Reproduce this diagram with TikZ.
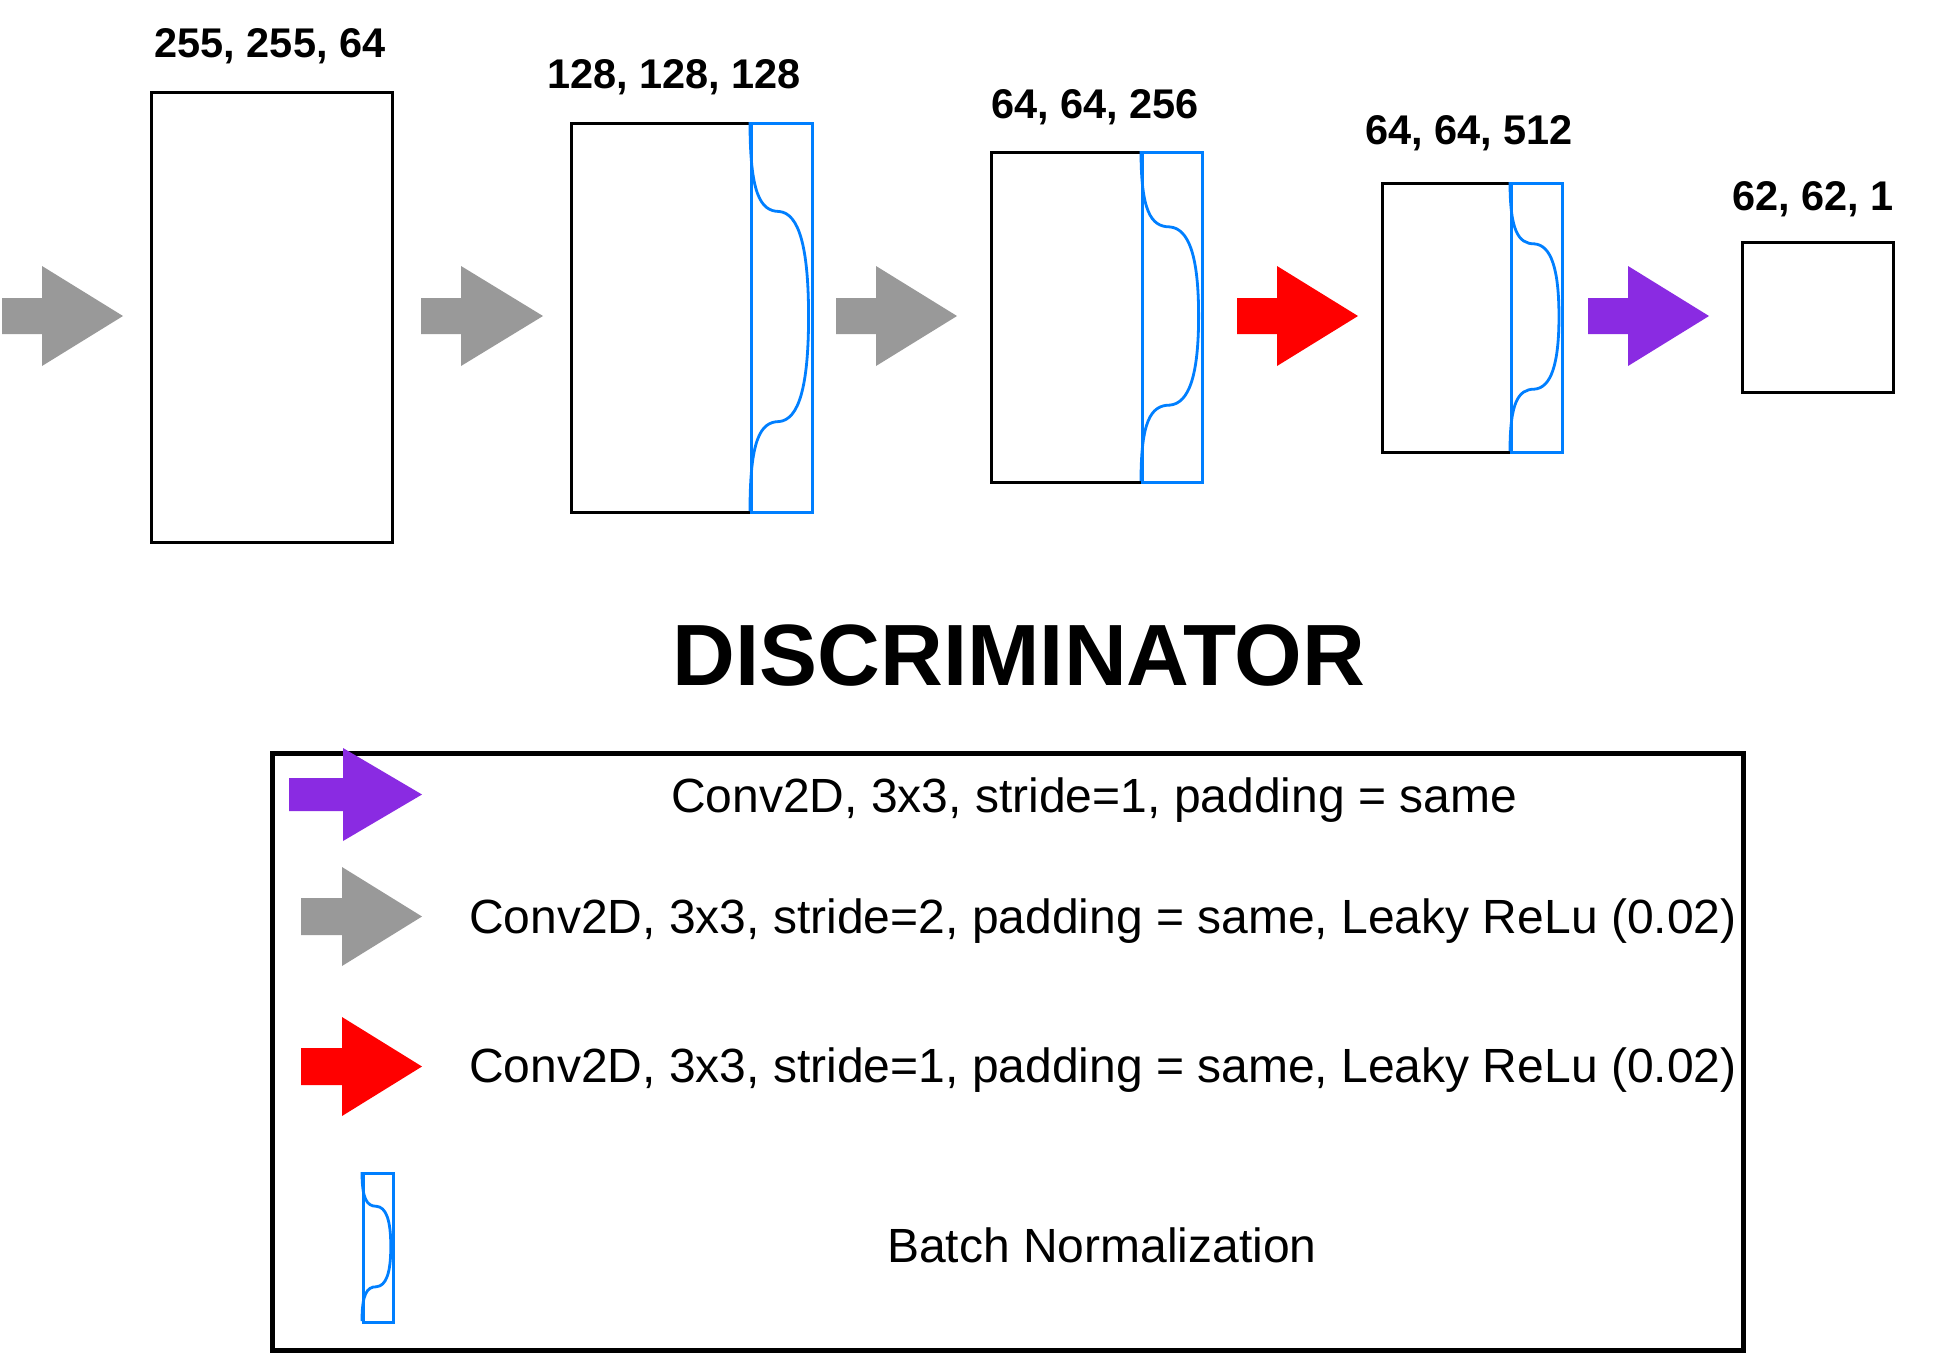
\documentclass[tikz,border=0pt]{standalone}
\usepackage{fontspec}
\setmainfont{Liberation Sans}

\definecolor{bnblue}{RGB}{0,127,255}
\definecolor{convgray}{RGB}{153,153,153}
\definecolor{convred}{RGB}{255,0,0}
\definecolor{convpurple}{RGB}{138,43,226}

% block arrow: fill style, x start, x of head base, x of tip, y centre, shaft half-height, head half-height
\newcommand\blockarrowshape[7]{%
  \fill[#1] (#2,#5-#6) -- (#3,#5-#6) -- (#3,#5-#7) -- (#4,#5)
    -- (#3,#5+#7) -- (#3,#5+#6) -- (#2,#5+#6) -- cycle;}

% batch-normalisation wave inside a box: x, y of top-left corner, width, height
\newcommand\bnwave[4]{%
  \draw[bnline, shift={(#1,#2)}, x=#3pt, y=-#4pt]
    (0,0) .. controls (0,0.18) and (0.16,0.23) .. (0.48,0.23)
    .. controls (0.8,0.235) and (0.96,0.32) .. (0.96,0.5)
    .. controls (0.96,0.68) and (0.8,0.765) .. (0.48,0.77)
    .. controls (0.16,0.77) and (0,0.82) .. (0,1);}

\begin{document}
\begin{tikzpicture}[x=1pt,y=-1pt,
  layer/.style={draw=black, line width=3.2pt, inner sep=0pt, anchor=north west},
  bnbox/.style={draw=bnblue, line width=3.2pt, inner sep=0pt, anchor=north west},
  bnline/.style={draw=bnblue, line width=2.8pt},
  dimlabel/.style={font=\fontsize{41.5}{50}\selectfont\bfseries, anchor=base, inner sep=0pt},
  legendtext/.style={font=\fontsize{48}{58}\selectfont, anchor=base west, inner sep=0pt},
  grayfill/.style={fill=convgray},
  redfill/.style={fill=convred},
  purplefill/.style={fill=convpurple}]

\fill[white] (0,0) rectangle (1953,1353);
\useasboundingbox (0,0) rectangle (1953,1353);

% feature maps
\node[layer, minimum width=241pt, minimum height=450pt] (l1) at (150,91) {};
\node[layer, minimum width=180pt, minimum height=389pt] (l2) at (570,122) {};
\node[bnbox, minimum width=61pt, minimum height=389pt] (bn2) at (750,122) {};
\bnwave{750}{122}{61}{389}
\node[layer, minimum width=151pt, minimum height=330pt] (l3) at (990,151) {};
\node[bnbox, minimum width=60pt, minimum height=330pt] (bn3) at (1141,151) {};
\bnwave{1141}{151}{60}{330}
\node[layer, minimum width=129pt, minimum height=269pt] (l4) at (1381,182) {};
\node[bnbox, minimum width=51pt, minimum height=269pt] (bn4) at (1510,182) {};
\bnwave{1510}{182}{51}{269}
\node[layer, minimum width=151pt, minimum height=150pt] (l5) at (1741,241) {};

% shape labels
\node[dimlabel] (d1) at (270,57) {255, 255, 64};
\node[dimlabel] (d2) at (674,88) {128, 128, 128};
\node[dimlabel] (d3) at (1095,118) {64, 64, 256};
\node[dimlabel] (d4) at (1469,144) {64, 64, 512};
\node[dimlabel] (d5) at (1813,210) {62, 62, 1};

% operations between layers
\blockarrowshape{grayfill}{2}{42}{123}{316}{18}{50}
\blockarrowshape{grayfill}{421}{461}{543}{316}{18}{50}
\blockarrowshape{grayfill}{836}{876}{957}{316}{18}{50}
\blockarrowshape{redfill}{1237}{1277}{1358}{316}{18}{50}
\blockarrowshape{purplefill}{1588}{1628}{1709}{316}{18}{50}

% title
\node[font=\fontsize{87}{100}\selectfont\bfseries, anchor=base, inner sep=0pt] (title) at (1019,685) {DISCRIMINATOR};

% legend
\node[draw=black, line width=5pt, inner sep=0pt, anchor=north west,
      minimum width=1471pt, minimum height=597pt] (legend) at (270,751) {};
\blockarrowshape{purplefill}{289}{343}{422}{794.5}{16.5}{46.5}
\blockarrowshape{grayfill}{301}{342}{422}{916.5}{18.5}{49.5}
\blockarrowshape{redfill}{301}{342}{422}{1066.5}{18.5}{49.5}
\node[bnbox, minimum width=30pt, minimum height=149pt] (bnkey) at (362,1172) {};
\bnwave{362}{1172}{30}{149}

\node[legendtext] (t1) at (671,812) {Conv2D, 3x3, stride=1, padding = same};
\node[legendtext] (t2) at (469,933) {Conv2D, 3x3, stride=2, padding = same, Leaky ReLu (0.02)};
\node[legendtext] (t3) at (469,1082) {Conv2D, 3x3, stride=1, padding = same, Leaky ReLu (0.02)};
\node[legendtext] (t4) at (887,1262) {Batch Normalization};
\end{tikzpicture}
\end{document}
